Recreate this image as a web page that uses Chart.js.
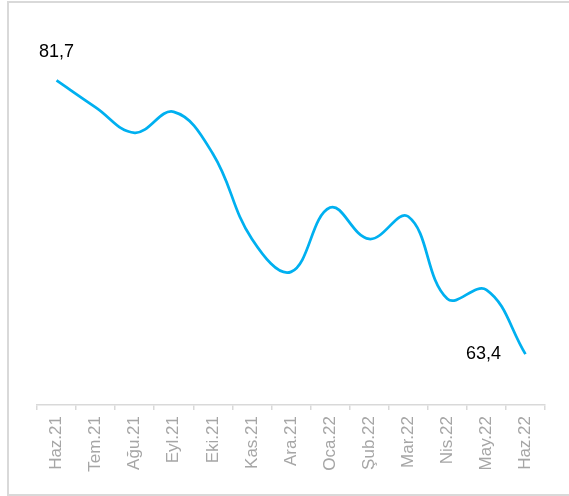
<!DOCTYPE html>
<html>
<head>
<meta charset="utf-8">
<script src="https://cdn.jsdelivr.net/npm/chart.js@4"></script>
<style>
  html, body { margin: 0; padding: 0; background: #fff; }
  #wrap { position: relative; width: 569px; height: 496px; overflow: hidden; }
  #frame { position: absolute; left: 7px; top: 1px; width: 580px; height: 491px; border: 2px solid #d9d9d9; }
  canvas { position: absolute; left: 0; top: 0; }
</style>
</head>
<body>
<div id="wrap">
  <div id="frame"></div>
  <canvas id="chart" width="569" height="496"></canvas>
</div>
<script>
// months on the x axis
const months = ["Haz.21", "Tem.21", "Ağu.21", "Eyl.21", "Eki.21", "Kas.21", "Ara.21",
                "Oca.22", "Şub.22", "Mar.22", "Nis.22", "May.22", "Haz.22"];
// series values
const values = [81.7, 79.9, 78.2, 79.6, 76.8, 71.1, 68.9, 73.2, 71.1, 72.6, 67.1, 67.7, 63.4];
// only first and last points carry a label
const labelledPoints = [0, values.length - 1];

const lineColor = "#00b0f0";

// draws the value labels next to the first and last points
const endLabels = {
  id: "endLabels",
  afterDatasetsDraw(chart) {
    const ctx = chart.ctx;
    const meta = chart.getDatasetMeta(0);
    ctx.save();
    ctx.font = "18px 'Liberation Sans', Arial, sans-serif";
    ctx.fillStyle = "#000";
    ctx.textAlign = "center";
    ctx.textBaseline = "middle";
    labelledPoints.forEach(i => {
      const pt = meta.data[i];
      const text = values[i].toFixed(1).replace(".", ",");
      if (i === 0) {
        ctx.fillText(text, pt.x, pt.y - 28);
      } else {
        ctx.fillText(text, pt.x - 42, pt.y);
      }
    });
    ctx.restore();
  }
};

new Chart(document.getElementById("chart"), {
  type: "line",
  data: {
    labels: months,
    datasets: [{
      data: values,
      borderColor: lineColor,
      borderWidth: 2.75,
      tension: 0.4,
      pointRadius: 0,
      fill: false
    }]
  },
  options: {
    responsive: false,
    animation: false,
    layout: { padding: { left: 37, right: 24, top: 46, bottom: 0 } },
    plugins: { legend: { display: false }, tooltip: { enabled: false } },
    scales: {
      x: {
        offset: true,
        border: { color: "#d9d9d9", width: 1.5 },
        grid: { offset: true, drawOnChartArea: false, color: "#d9d9d9", tickLength: 5, lineWidth: 1.5 },
        ticks: {
          minRotation: 90,
          maxRotation: 90,
          padding: 6,
          color: "#a6a6a6",
          font: { family: "'Liberation Sans', Arial, sans-serif", size: 17 }
        },
        afterFit(scale) { scale.height = 91; }
      },
      y: {
        display: false,
        min: 60,
        max: 84
      }
    }
  },
  plugins: [endLabels]
});
</script>
</body>
</html>
